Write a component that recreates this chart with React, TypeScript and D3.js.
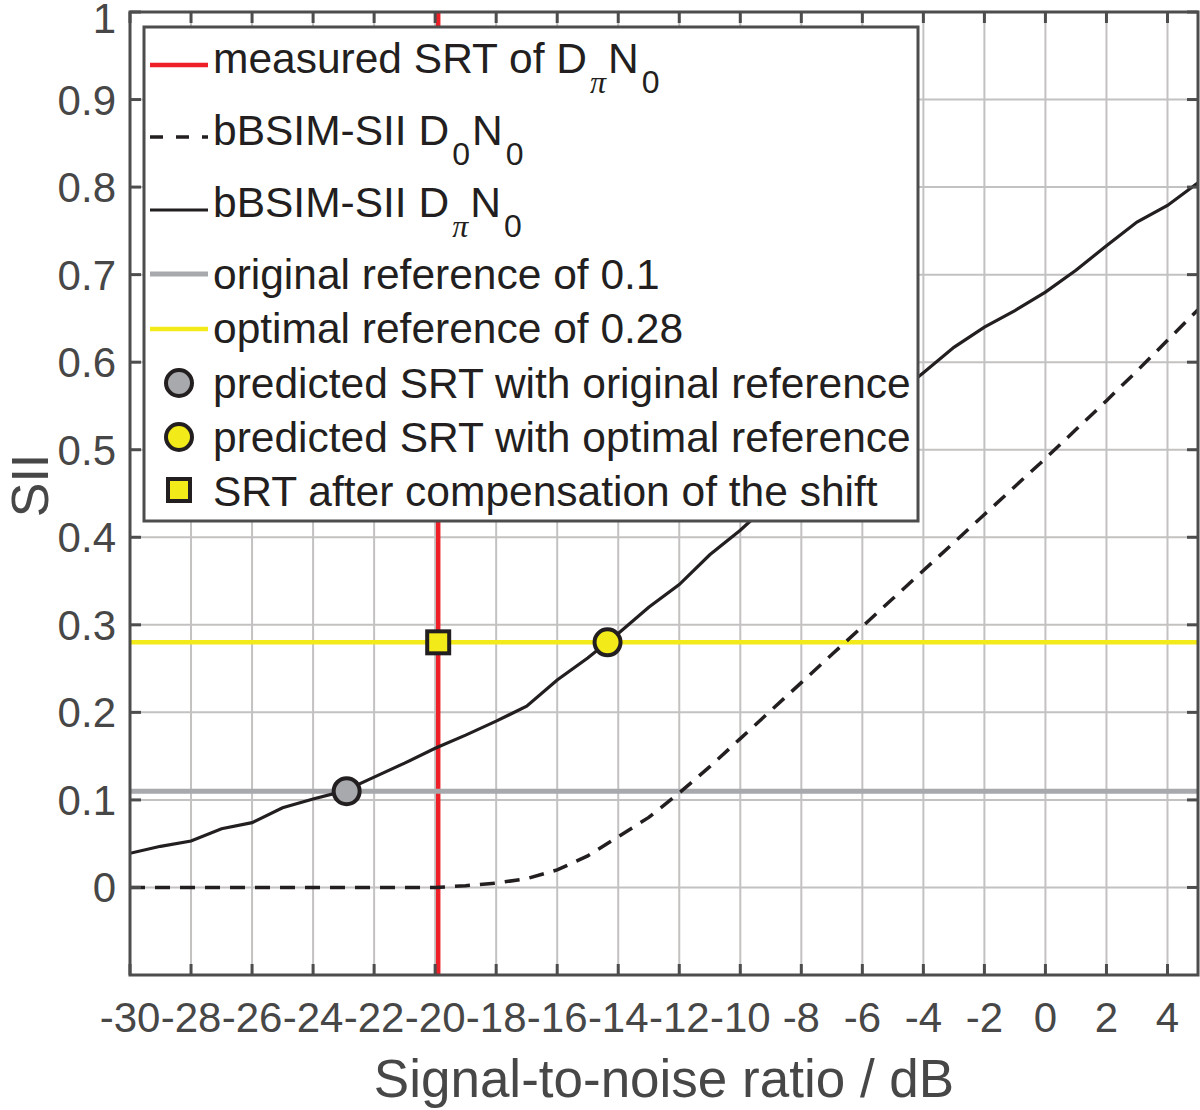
import { useEffect, useRef } from "react"
import * as d3 from "d3"

// SNR grid of the model curves (dB)
const snr = [
  -30, -29, -28, -27, -26, -25, -24, -23, -22, -21, -20, -19, -18, -17, -16, -15, -14, -13, -12, -11, -10, -9, -8,
  -7, -6, -5, -4, -3, -2, -1, 0, 1, 2, 3, 4, 5,
]
// bBSIM-SII DpiN0 (solid)
const siiDpiN0 = [
  0.039, 0.047, 0.053, 0.067, 0.074, 0.091, 0.101, 0.11, 0.126, 0.142, 0.159, 0.174, 0.19, 0.207, 0.237, 0.262, 0.29,
  0.32, 0.346, 0.38, 0.408, 0.44, 0.47, 0.5, 0.53, 0.56, 0.588, 0.617, 0.64, 0.659, 0.68, 0.705, 0.733, 0.76, 0.779,
  0.805,
]
// bBSIM-SII D0N0 (dashed)
const siiD0N0 = [
  0, 0, 0, 0, 0, 0, 0, 0, 0, 0, 0, 0.002, 0.005, 0.01, 0.02, 0.036, 0.058, 0.08, 0.108, 0.138, 0.17, 0.202, 0.234,
  0.266, 0.298, 0.33, 0.362, 0.394, 0.426, 0.458, 0.49, 0.523, 0.556, 0.59, 0.625, 0.66,
]

const measuredSRT = -19.9
const originalRef = 0.11
const optimalRef = 0.28
const predictedOriginal = { x: -22.9, y: 0.11 }
const predictedOptimal = { x: -14.35, y: 0.28 }
const compensated = { x: -19.9, y: 0.28 }

const xTicks = d3.range(-30, 5, 2)
const yTicks = d3.range(0, 11).map((i) => i / 10)
const yTickLabels = ["0", "0.1", "0.2", "0.3", "0.4", "0.5", "0.6", "0.7", "0.8", "0.9", "1"]

const legendLabels = [
  ["measured SRT of D", "π", "N", "0"],
  ["bBSIM-SII D", "0", "N", "0"],
  ["bBSIM-SII D", "π", "N", "0"],
  ["original reference of 0.1"],
  ["optimal reference of 0.28"],
  ["predicted SRT with original reference"],
  ["predicted SRT with optimal reference"],
  ["SRT after compensation of the shift"],
]

const RED = "#ee1f26"
const YELLOW = "#f2ea19"
const GREY = "#a7a9ac"
const INK = "#231f20"
const AXIS = "#4d4d4d"
const FONT = "'Liberation Sans', Arial, Helvetica, sans-serif"

export default function App() {
  const svgRef = useRef<SVGSVGElement>(null)

  useEffect(() => {
    if (!svgRef.current) return
    const root = d3.select(svgRef.current)
    root.selectAll("*").remove()

    const left = 130
    const right = 1198
    const top = 12
    const bottom = 975

    const x = d3.scaleLinear().domain([-30, 5]).range([left, right])
    const y = d3.scaleLinear().domain([-0.1, 1]).range([bottom, top])

    root.append("rect").attr("width", 1200).attr("height", 1110).attr("fill", "white")

    root
      .append("defs")
      .append("clipPath")
      .attr("id", "plot-clip")
      .append("rect")
      .attr("x", left)
      .attr("y", top)
      .attr("width", right - left)
      .attr("height", bottom - top)

    // grid
    const grid = root.append("g").attr("stroke", "#c4c1c1").attr("stroke-width", 2)
    xTicks.forEach((t) => {
      grid.append("line").attr("x1", x(t)).attr("x2", x(t)).attr("y1", top).attr("y2", bottom)
    })
    yTicks.forEach((t) => {
      grid.append("line").attr("x1", left).attr("x2", right).attr("y1", y(t)).attr("y2", y(t))
    })

    const plot = root.append("g").attr("clip-path", "url(#plot-clip)")

    // measured SRT
    plot
      .append("line")
      .attr("x1", x(measuredSRT))
      .attr("x2", x(measuredSRT))
      .attr("y1", top)
      .attr("y2", bottom)
      .attr("stroke", RED)
      .attr("stroke-width", 4.5)

    // reference levels
    plot
      .append("line")
      .attr("x1", left)
      .attr("x2", right)
      .attr("y1", y(originalRef))
      .attr("y2", y(originalRef))
      .attr("stroke", GREY)
      .attr("stroke-width", 5)
    plot
      .append("line")
      .attr("x1", left)
      .attr("x2", right)
      .attr("y1", y(optimalRef))
      .attr("y2", y(optimalRef))
      .attr("stroke", YELLOW)
      .attr("stroke-width", 4.5)

    const line = d3
      .line<number>()
      .x((_, i) => x(snr[i]))
      .y((d) => y(d))

    plot
      .append("path")
      .attr("d", line(siiD0N0))
      .attr("fill", "none")
      .attr("stroke", INK)
      .attr("stroke-width", 3.5)
      .attr("stroke-dasharray", "15,10")

    plot
      .append("path")
      .attr("d", line(siiDpiN0))
      .attr("fill", "none")
      .attr("stroke", INK)
      .attr("stroke-width", 3.2)

    // markers
    plot
      .append("circle")
      .attr("cx", x(predictedOriginal.x))
      .attr("cy", y(predictedOriginal.y))
      .attr("r", 13)
      .attr("fill", GREY)
      .attr("stroke", INK)
      .attr("stroke-width", 4)
    plot
      .append("circle")
      .attr("cx", x(predictedOptimal.x))
      .attr("cy", y(predictedOptimal.y))
      .attr("r", 13)
      .attr("fill", YELLOW)
      .attr("stroke", INK)
      .attr("stroke-width", 4)
    plot
      .append("rect")
      .attr("x", x(compensated.x) - 11)
      .attr("y", y(compensated.y) - 11)
      .attr("width", 22)
      .attr("height", 22)
      .attr("fill", YELLOW)
      .attr("stroke", INK)
      .attr("stroke-width", 4)

    // axes box with inward ticks
    const ax = root.append("g").attr("stroke", AXIS).attr("stroke-width", 3)
    ax.append("rect")
      .attr("x", left)
      .attr("y", top)
      .attr("width", right - left)
      .attr("height", bottom - top)
      .attr("fill", "none")
    const tickLen = 11
    xTicks.forEach((t) => {
      ax.append("line").attr("x1", x(t)).attr("x2", x(t)).attr("y1", bottom).attr("y2", bottom - tickLen)
      ax.append("line").attr("x1", x(t)).attr("x2", x(t)).attr("y1", top).attr("y2", top + tickLen)
    })
    yTicks.forEach((t) => {
      ax.append("line").attr("x1", left).attr("x2", left + tickLen).attr("y1", y(t)).attr("y2", y(t))
      ax.append("line").attr("x1", right).attr("x2", right - tickLen).attr("y1", y(t)).attr("y2", y(t))
    })

    // tick labels
    const labels = root.append("g").attr("fill", "#474747").style("font-family", FONT).style("font-size", "42px")
    xTicks.forEach((t) => {
      labels
        .append("text")
        .attr("x", x(t))
        .attr("y", bottom + 57)
        .attr("text-anchor", "middle")
        .text(String(t))
    })
    yTicks.forEach((t, i) => {
      labels
        .append("text")
        .attr("x", 116)
        .attr("y", Math.max(y(t) + 15, 33))
        .attr("text-anchor", "end")
        .text(yTickLabels[i])
    })

    // axis titles
    root
      .append("text")
      .attr("x", (left + right) / 2)
      .attr("y", 1097)
      .attr("text-anchor", "middle")
      .attr("fill", "#474747")
      .style("font-family", FONT)
      .style("font-size", "53px")
      .text("Signal-to-noise ratio / dB")
    root
      .append("text")
      .attr("transform", `translate(48, ${(top + bottom) / 2 - 8}) rotate(-90)`)
      .attr("text-anchor", "middle")
      .attr("fill", "#474747")
      .style("font-family", FONT)
      .style("font-size", "52px")
      .text("SII")

    // legend
    const lg = root.append("g")
    lg.append("rect")
      .attr("x", 144)
      .attr("y", 27)
      .attr("width", 774)
      .attr("height", 494)
      .attr("fill", "white")
      .attr("stroke", AXIS)
      .attr("stroke-width", 3)

    const rowY = [65, 137, 210, 274, 329, 383, 437, 490]
    const baseY = [73, 145, 217, 289, 343, 398, 452, 506]
    const sx1 = 150
    const sx2 = 208
    const sxc = (sx1 + sx2) / 2

    lg.append("line").attr("x1", sx1).attr("x2", sx2).attr("y1", rowY[0]).attr("y2", rowY[0]).attr("stroke", RED).attr("stroke-width", 4.5)
    lg.append("line")
      .attr("x1", sx1)
      .attr("x2", sx2)
      .attr("y1", rowY[1])
      .attr("y2", rowY[1])
      .attr("stroke", INK)
      .attr("stroke-width", 3.5)
      .attr("stroke-dasharray", "13,13")
    lg.append("line").attr("x1", sx1).attr("x2", sx2).attr("y1", rowY[2]).attr("y2", rowY[2]).attr("stroke", INK).attr("stroke-width", 3.2)
    lg.append("line").attr("x1", sx1).attr("x2", sx2).attr("y1", rowY[3]).attr("y2", rowY[3]).attr("stroke", GREY).attr("stroke-width", 5)
    lg.append("line").attr("x1", sx1).attr("x2", sx2).attr("y1", rowY[4]).attr("y2", rowY[4]).attr("stroke", YELLOW).attr("stroke-width", 4.5)
    lg.append("circle").attr("cx", sxc).attr("cy", rowY[5]).attr("r", 13).attr("fill", GREY).attr("stroke", INK).attr("stroke-width", 4)
    lg.append("circle").attr("cx", sxc).attr("cy", rowY[6]).attr("r", 13).attr("fill", YELLOW).attr("stroke", INK).attr("stroke-width", 4)
    lg.append("rect")
      .attr("x", sxc - 11)
      .attr("y", rowY[7] - 11)
      .attr("width", 22)
      .attr("height", 22)
      .attr("fill", YELLOW)
      .attr("stroke", INK)
      .attr("stroke-width", 4)

    legendLabels.forEach((parts, i) => {
      const t = lg
        .append("text")
        .attr("x", 213)
        .attr("y", baseY[i])
        .attr("fill", INK)
        .style("font-family", FONT)
        .style("font-size", "42.5px")
      t.append("tspan").text(parts[0])
      if (parts.length > 1) {
        const sub1 = t.append("tspan").attr("dy", 20).style("font-size", "32px").attr("dx", 3).text(parts[1])
        if (parts[1] === "π") sub1.style("font-family", "'Liberation Serif', serif").style("font-style", "italic")
        t.append("tspan").attr("dy", -20).attr("dx", 2).text(parts[2])
        t.append("tspan").attr("dy", 20).attr("dx", 3).style("font-size", "32px").text(parts[3])
      }
    })
  }, [])

  return (
    <svg
      ref={svgRef}
      width={1200}
      height={1110}
      style={{ position: "absolute", left: 0, top: 0, display: "block" }}
    ></svg>
  )
}
